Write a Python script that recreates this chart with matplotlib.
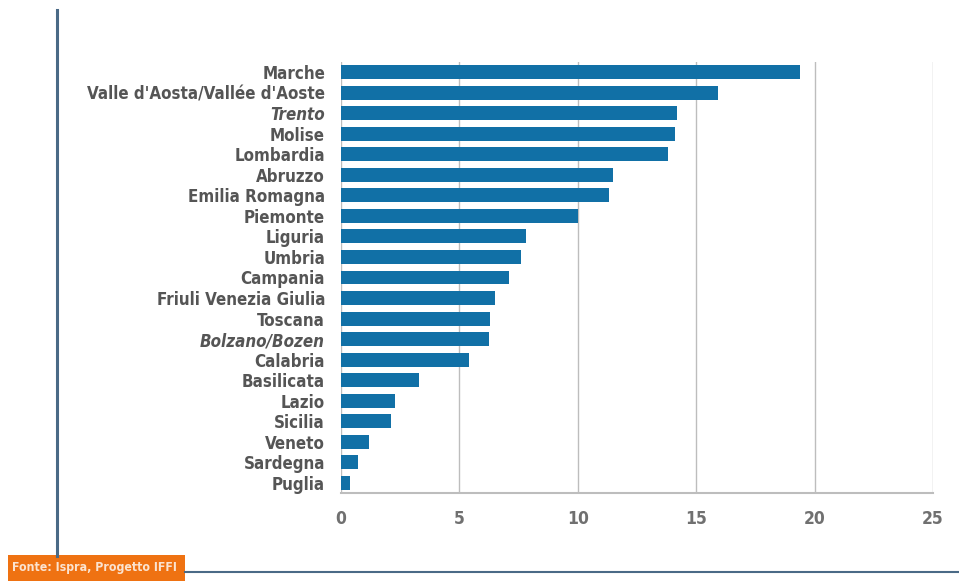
import matplotlib
matplotlib.use("Agg")
import matplotlib.pyplot as plt
from matplotlib.patches import Rectangle
from matplotlib.lines import Line2D

regions = ["Marche", "Valle d'Aosta/Vallée d'Aoste", "Trento", "Molise", "Lombardia",
           "Abruzzo", "Emilia Romagna", "Piemonte", "Liguria", "Umbria", "Campania",
           "Friuli Venezia Giulia", "Toscana", "Bolzano/Bozen", "Calabria", "Basilicata",
           "Lazio", "Sicilia", "Veneto", "Sardegna", "Puglia"]
values = [19.4, 15.9, 14.2, 14.1, 13.8, 11.5, 11.3, 10.0, 7.8, 7.6, 7.1,
          6.5, 6.3, 6.25, 5.4, 3.3, 2.3, 2.1, 1.2, 0.7, 0.4]
italic_regions = ["Trento", "Bolzano/Bozen"]
xticks = [0, 5, 10, 15, 20, 25]
source = "Fonte: Ispra, Progetto IFFI"

plt.rcParams['font.family'] = ['DejaVu Sans']
plt.rcParams['font.stretch'] = 'condensed'

fig = plt.figure(figsize=(9.59, 5.81), dpi=100)
ax = fig.add_axes([341/959, 1-493/581, (933-341)/959, (493-62)/581])

ypos = list(range(len(regions)))
ax.barh(ypos, values, height=0.68, color="#1170a6", zorder=3)
ax.set_ylim(len(regions)-0.5, -0.5)
ax.set_xlim(0, 25)
ax.set_xticks(xticks)
ax.set_xticklabels([str(t) for t in xticks], fontsize=12.5, fontweight='bold', color="#707070", stretch='condensed')
ax.set_yticks(ypos)
ax.set_yticklabels(regions, fontsize=12.2, fontweight='bold', color="#555555", stretch='condensed')
for lbl in ax.get_yticklabels():
    if lbl.get_text() in italic_regions:
        lbl.set_style('italic')
ax.tick_params(axis='y', length=0, pad=11.5)
ax.tick_params(axis='x', length=0, pad=12)
ax.grid(axis='x', color="#bdbdbd", linewidth=1, zorder=0)
for s in ['top', 'right', 'left']:
    ax.spines[s].set_visible(False)
ax.spines['bottom'].set_color("#bdbdbd")
ax.spines['bottom'].set_linewidth(1.5)

fig.add_artist(Line2D([57/959, 57/959], [1-10/581, 1-556/581], color="#4a6a86", linewidth=2.2))
fig.add_artist(Line2D([185/959, 1.0], [1-572/581, 1-572/581], color="#4a6a86", linewidth=1.5))
fig.add_artist(Rectangle((8/959, 0), (185-8)/959, (581-555)/581, transform=fig.transFigure,
                         facecolor="#ef7212", edgecolor="none"))
fig.text(12/959, 1-568/581, source, fontsize=8.8, fontweight='bold', color="#fbe3d0",
         va='center', ha='left', stretch='condensed')

fig.savefig("out.png", dpi=100)
